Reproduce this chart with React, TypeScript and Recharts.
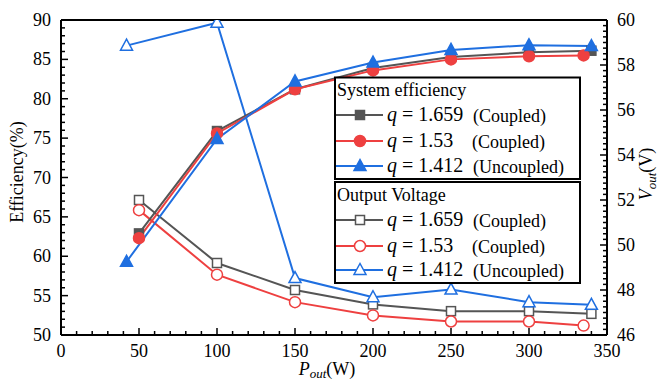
import React from "react";
import {
  ComposedChart,
  Line,
  XAxis,
  YAxis,
  ReferenceLine,
} from "recharts";

// x positions (W)
const P_GRAY = [50, 100, 150, 200, 250, 300, 340];
const P_RED = [50, 100, 150, 200, 250, 300, 335];
const P_BLUE = [42, 100, 150, 200, 250, 300, 340];

// system efficiency (%)
const EFF_1659 = [62.9, 75.9, 81.2, 83.9, 85.3, 85.9, 86.1];
const EFF_153 = [62.3, 75.6, 81.2, 83.6, 85.0, 85.4, 85.5];
const EFF_1412 = [59.3, 74.9, 82.2, 84.6, 86.2, 86.8, 86.7];

// output voltage (V)
const V_1659 = [52.0, 49.2, 48.0, 47.36, 47.06, 47.06, 46.94];
const V_153 = [51.55, 48.68, 47.46, 46.87, 46.6, 46.6, 46.42];
const V_1412 = [58.86, 59.88, 48.53, 47.68, 48.02, 47.46, 47.34];

const X_TICKS = Array.from({ length: 36 }, (_, i) => i * 10);
const EFF_TICKS = Array.from({ length: 41 }, (_, i) => 50 + i);
const V_TICKS = Array.from({ length: 57 }, (_, i) => 46 + i * 0.25);

const GRAY = "#555555";
const RED = "#ee4040";
const BLUE = "#1f6fe0";
const FONT = "'Liberation Serif', 'Times New Roman', 'DejaVu Serif', serif";
const TXT = { fontFamily: FONT };

const toRows = (xs: number[], ys: number[]) =>
  xs.map((x, i) => ({ x, y: ys[i] }));

const Marker = ({
  shape,
  cx,
  cy,
  color,
  open,
}: {
  shape: string;
  cx: number;
  cy: number;
  color: string;
  open: boolean;
}) => {
  const fill = open ? "#fff" : color;
  if (shape === "square")
    return (
      <rect
        x={cx - 4.5}
        y={cy - 4.5}
        width={9}
        height={9}
        fill={fill}
        stroke={color}
        strokeWidth={1.5}
      />
    );
  if (shape === "circle")
    return <circle cx={cx} cy={cy} r={5.5} fill={fill} stroke={color} strokeWidth={1.5} />;
  return (
    <polygon
      points={`${cx},${cy - 6.5} ${cx - 6},${cy + 4.5} ${cx + 6},${cy + 4.5}`}
      fill={fill}
      stroke={color}
      strokeWidth={1.5}
    />
  );
};

const makeDot = (shape: string, color: string, open: boolean) => (props: any) => {
  const { cx, cy, index } = props;
  if (cx == null || cy == null) return <g key={index} />;
  return (
    <g key={`d-${index}`}>
      <Marker shape={shape} cx={cx} cy={cy} color={color} open={open} />
    </g>
  );
};

const XTick = (props: any) => {
  const { x, y, payload } = props;
  const v = payload.value;
  const major = v % 50 === 0;
  return (
    <g>
      <line x1={x} x2={x} y1={y} y2={y - (major ? 7 : 4)} stroke="#000" strokeWidth={1.5} />
      {major && (
        <text x={x} y={y + 22} textAnchor="middle" fontSize={18} style={TXT} fill="#000">
          {v}
        </text>
      )}
    </g>
  );
};

const LeftTick = (props: any) => {
  const { x, y, payload } = props;
  const v = payload.value;
  const major = v % 5 === 0;
  return (
    <g>
      <line x1={x} x2={x + (major ? 7 : 4)} y1={y} y2={y} stroke="#000" strokeWidth={1.5} />
      {major && (
        <text x={x - 10} y={y + 6} textAnchor="end" fontSize={18} style={TXT} fill="#000">
          {v}
        </text>
      )}
    </g>
  );
};

const RightTick = (props: any) => {
  const { x, y, payload } = props;
  const v = payload.value;
  const major = Math.abs(v % 2) < 1e-6;
  return (
    <g>
      <line x1={x} x2={x - (major ? 7 : 4)} y1={y} y2={y} stroke="#000" strokeWidth={1.5} />
      {major && (
        <text x={x + 10} y={y + 6} textAnchor="start" fontSize={18} style={TXT} fill="#000">
          {v}
        </text>
      )}
    </g>
  );
};

const LegendRow = ({
  y,
  shape,
  color,
  open,
  q,
  tag,
  tagX,
}: {
  y: number;
  shape: string;
  color: string;
  open: boolean;
  q: string;
  tag: string;
  tagX: number;
}) => (
  <g>
    <line x1={336} x2={383} y1={y} y2={y} stroke={color} strokeWidth={2} />
    <Marker shape={shape} cx={360} cy={y} color={color} open={open} />
    <text x={387} y={y + 6} fontSize={20} style={TXT} fill="#000">
      <tspan fontStyle="italic">q</tspan>
      <tspan> = {q}</tspan>
    </text>
    <text x={tagX} y={y + 7} fontSize={18} style={TXT} fill="#000">
      {tag}
    </text>
  </g>
);

export default function App() {
  return (
    <div
      style={{
        position: "absolute",
        left: 0,
        top: 0,
        width: 663,
        height: 381,
        background: "#fff",
        fontFamily: FONT,
      }}
    >
      <ComposedChart
        width={663}
        height={381}
        margin={{ top: 20, right: 0, bottom: 0, left: 0 }}
      >
        <XAxis
          type="number"
          dataKey="x"
          domain={[0, 350]}
          ticks={X_TICKS}
          interval={0}
          height={46}
          tickSize={0}
          tickMargin={0}
          tickLine={false}
          tick={<XTick />}
          axisLine={{ stroke: "#000", strokeWidth: 2 }}
          allowDataOverflow
        />
        <YAxis
          yAxisId="eff"
          orientation="left"
          domain={[50, 90]}
          ticks={EFF_TICKS}
          interval={0}
          width={61}
          tickSize={0}
          tickMargin={0}
          tickLine={false}
          tick={<LeftTick />}
          axisLine={{ stroke: "#000", strokeWidth: 2 }}
          allowDataOverflow
        />
        <YAxis
          yAxisId="v"
          orientation="right"
          domain={[46, 60]}
          ticks={V_TICKS}
          interval={0}
          width={56}
          tickSize={0}
          tickMargin={0}
          tickLine={false}
          tick={<RightTick />}
          axisLine={{ stroke: "#000", strokeWidth: 2 }}
          allowDataOverflow
        />
        <ReferenceLine yAxisId="eff" y={90} stroke="#000" strokeWidth={2} />

        {/* output voltage */}
        <Line
          yAxisId="v"
          data={toRows(P_GRAY, V_1659)}
          dataKey="y"
          stroke={GRAY}
          strokeWidth={2}
          dot={makeDot("square", GRAY, true)}
          isAnimationActive={false}
        />
        <Line
          yAxisId="v"
          data={toRows(P_RED, V_153)}
          dataKey="y"
          stroke={RED}
          strokeWidth={2}
          dot={makeDot("circle", RED, true)}
          isAnimationActive={false}
        />
        <Line
          yAxisId="v"
          data={toRows(P_BLUE, V_1412)}
          dataKey="y"
          stroke={BLUE}
          strokeWidth={2}
          dot={makeDot("triangle", BLUE, true)}
          isAnimationActive={false}
        />

        {/* system efficiency */}
        <Line
          yAxisId="eff"
          data={toRows(P_GRAY, EFF_1659)}
          dataKey="y"
          stroke={GRAY}
          strokeWidth={2}
          dot={makeDot("square", GRAY, false)}
          isAnimationActive={false}
        />
        <Line
          yAxisId="eff"
          data={toRows(P_RED, EFF_153)}
          dataKey="y"
          stroke={RED}
          strokeWidth={2}
          dot={makeDot("circle", RED, false)}
          isAnimationActive={false}
        />
        <Line
          yAxisId="eff"
          data={toRows(P_BLUE, EFF_1412)}
          dataKey="y"
          stroke={BLUE}
          strokeWidth={2}
          dot={makeDot("triangle", BLUE, false)}
          isAnimationActive={false}
        />
      </ComposedChart>

      <svg
        width={663}
        height={381}
        style={{ position: "absolute", left: 0, top: 0, pointerEvents: "none" }}
      >
        {/* axis titles */}
        <text x={327} y={375} textAnchor="middle" fontSize={18} style={TXT} fill="#000">
          <tspan fontStyle="italic">P</tspan>
          <tspan fontStyle="italic" fontSize={13} dy={3}>out</tspan>
          <tspan dy={-3}>(W)</tspan>
        </text>
        <text
          transform="translate(23,172) rotate(-90)"
          textAnchor="middle"
          fontSize={18}
          style={TXT}
          fill="#000"
        >
          Efficiency(%)
        </text>
        <text
          transform="translate(652,174) rotate(-90)"
          textAnchor="middle"
          fontSize={18}
          style={TXT}
          fill="#000"
        >
          <tspan fontStyle="italic">V</tspan>
          <tspan fontStyle="italic" fontSize={13} dy={4}>out</tspan>
          <tspan dy={-4}>(V)</tspan>
        </text>

        {/* legend: system efficiency */}
        <rect x={335} y={77.5} width={245} height={101.5} fill="#fff" stroke="#000" strokeWidth={2} />
        <text x={337} y={96} fontSize={18} style={TXT} fill="#000">
          System efficiency
        </text>
        <LegendRow y={115} shape="square" color={GRAY} open={false} q="1.659" tag="(Coupled)" tagX={473} />
        <LegendRow y={141} shape="circle" color={RED} open={false} q="1.53" tag="(Coupled)" tagX={472} />
        <LegendRow y={166} shape="triangle" color={BLUE} open={false} q="1.412" tag="(Uncoupled)" tagX={473} />

        {/* legend: output voltage */}
        <rect x={335} y={182} width={245} height={101} fill="#fff" stroke="#000" strokeWidth={2} />
        <text x={337} y={201} fontSize={18} style={TXT} fill="#000">
          Output Voltage
        </text>
        <LegendRow y={220} shape="square" color={GRAY} open={true} q="1.659" tag="(Coupled)" tagX={473} />
        <LegendRow y={246} shape="circle" color={RED} open={true} q="1.53" tag="(Coupled)" tagX={472} />
        <LegendRow y={270} shape="triangle" color={BLUE} open={true} q="1.412" tag="(Uncoupled)" tagX={473} />
      </svg>
    </div>
  );
}
